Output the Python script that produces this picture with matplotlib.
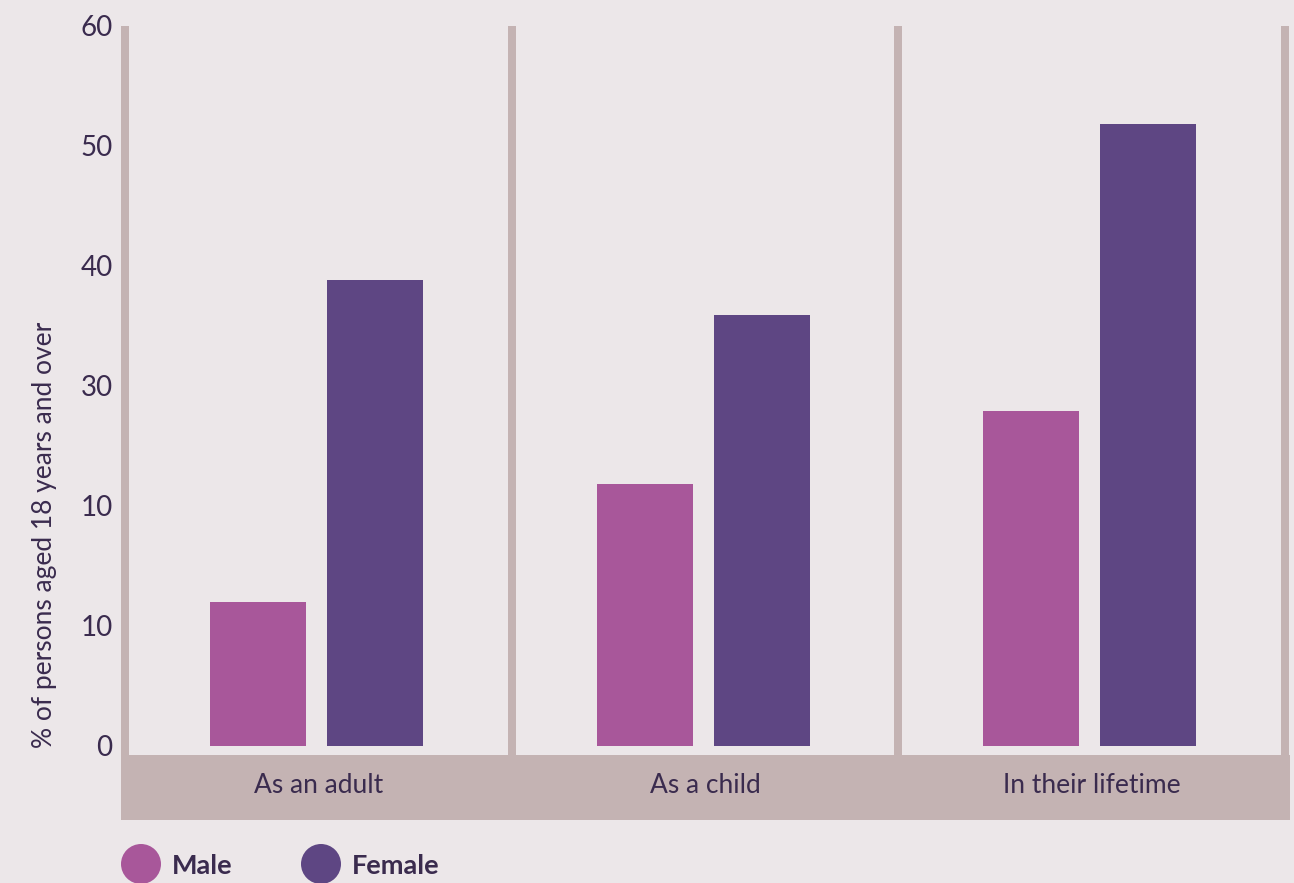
import matplotlib
matplotlib.use("Agg")
import matplotlib.pyplot as plt
from matplotlib.patches import Circle

categories = ["As an adult", "As a child", "In their lifetime"]
male = [12.0, 21.8, 27.9]
female = [38.8, 35.9, 51.8]
ytick_values = [0, 10, 20, 30, 40, 50, 60]
ytick_labels = ["0", "10", "10", "30", "40", "50", "60"]
series_names = ["Male", "Female"]

BG = "#ECE7E9"
BAND = "#C4B3B3"
MALE_C = "#A8579A"
FEMALE_C = "#5E4683"
TEXT_C = "#3A2B4E"
FONT = ["Lato", "DejaVu Sans"]
plt.rcParams["font.family"] = FONT

W, H = 1294, 883
fig = plt.figure(figsize=(W / 100, H / 100), dpi=100, facecolor=BG)
left, right, top, bottom = 121, 1290, 26, 820
ax = fig.add_axes([left / W, 1 - bottom / H, (right - left) / W, (bottom - top) / H])
ax.set_facecolor(BG)

px_per_cat = (1285 - 125) / 3.0
x0 = -0.5 - (125 - left) / px_per_cat
x1 = 2.5 + (right - 1285) / px_per_cat
ax.set_xlim(x0, x1)
ax.set_ylim(-74 / 12.0, 60)

bw = 96 / px_per_cat
off = 58.5 / px_per_cat
shift = -2.0 / px_per_cat
xs = list(range(len(categories)))
ax.bar([x - off + shift for x in xs], male, width=bw, color=MALE_C, zorder=3)
ax.bar([x + off + shift for x in xs], female, width=bw, color=FEMALE_C, zorder=3)

# category band
ax.axhspan(-74 / 12.0, -0.75, color=BAND, zorder=1, lw=0)
for i, c in enumerate(categories):
    ax.text(i, -3.3, c, ha="center", va="center", fontsize=19, color=TEXT_C, zorder=4)

# vertical separators
for xv in [-0.5, 0.5, 1.5, 2.5]:
    ax.vlines(xv, -0.75, 60, color=BAND, lw=8 * 0.72, zorder=2, capstyle="butt")

for s in ax.spines.values():
    s.set_visible(False)
ax.set_xticks([])
ax.set_yticks(ytick_values)
ax.set_yticklabels(ytick_labels)
ax.tick_params(axis="y", length=0, pad=6, labelsize=20, labelcolor=TEXT_C)

fig.text(45 / W, 1 - 535 / H, "% of persons aged 18 years and over", rotation=90,
         ha="center", va="center", fontsize=19, color=TEXT_C)

# legend
for cx, col, name, tx in [(141, MALE_C, series_names[0], 172), (321, FEMALE_C, series_names[1], 352)]:
    circ = Circle((cx / 100, (H - 864) / 100), 0.20, transform=fig.dpi_scale_trans,
                  facecolor=col, edgecolor="none")
    fig.patches.append(circ)
    fig.text(tx / W, 1 - 866 / H, name, ha="left", va="center", fontsize=19.5,
             fontweight="bold", color=TEXT_C)

fig.savefig("out.png", dpi=100, facecolor=BG)
